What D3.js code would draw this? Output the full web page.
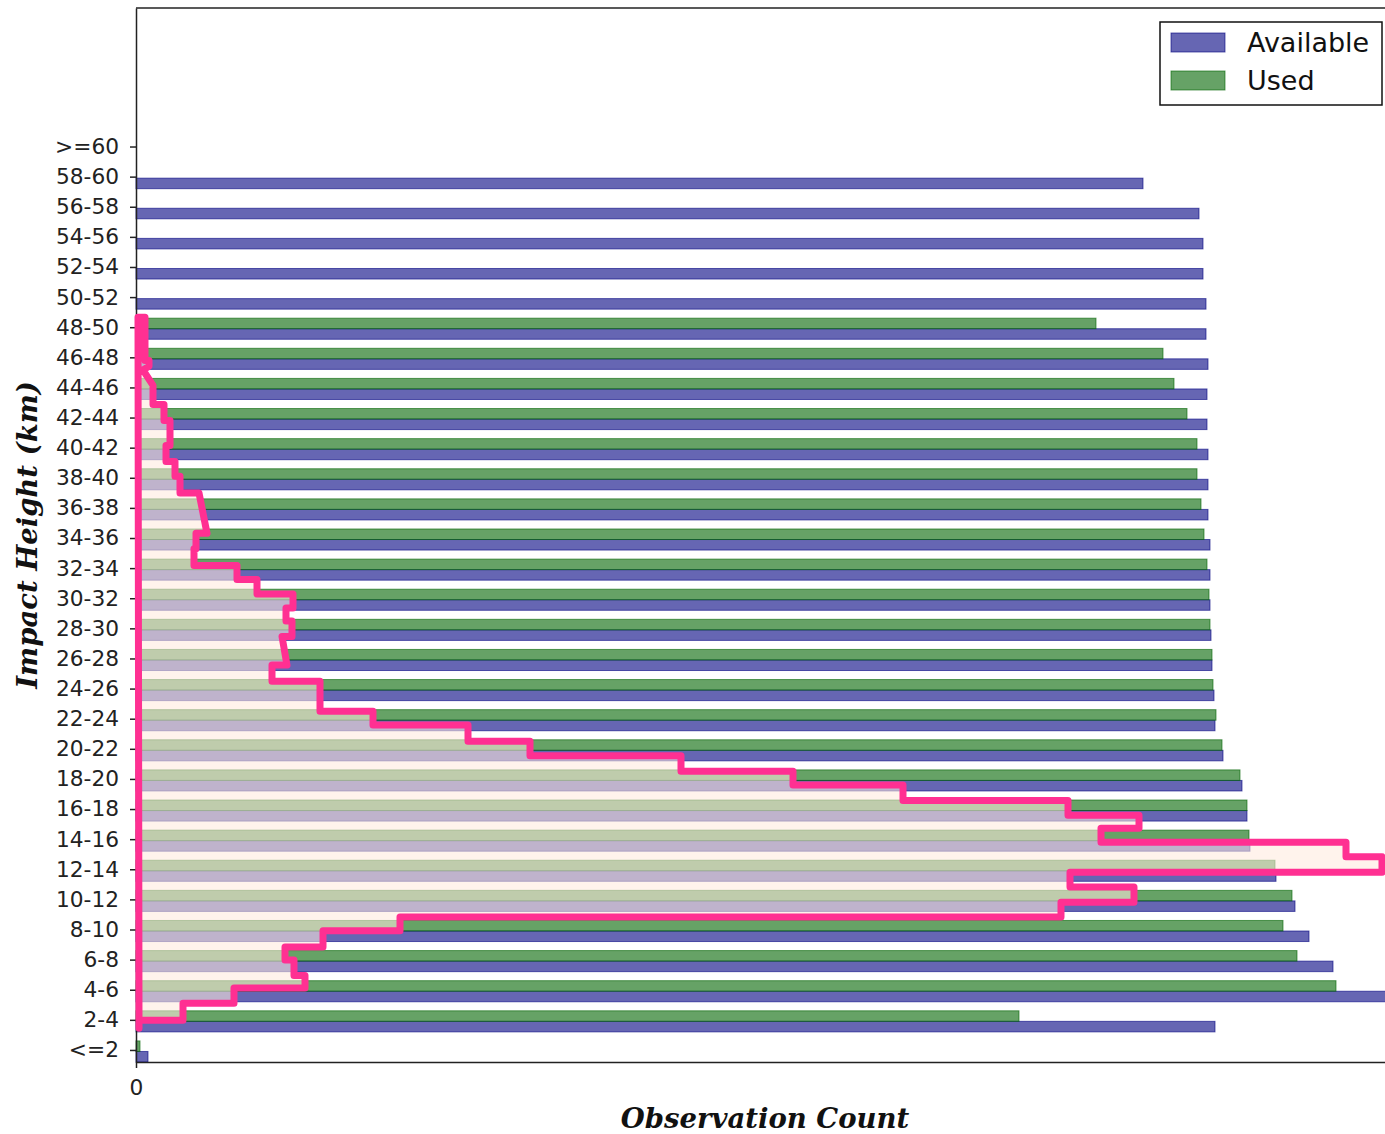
<!DOCTYPE html>
<html>
<head>
<meta charset="utf-8">
<script src="https://cdn.jsdelivr.net/npm/d3@7/dist/d3.min.js"></script>
<style>
  html, body { margin: 0; padding: 0; background: #fff; overflow: hidden; }
  svg { display: block; }
  .tick text { font-family: "DejaVu Sans", sans-serif; fill: #222; }
  .axlabel { font-family: "DejaVu Serif", serif; font-weight: bold; font-style: italic; fill: #111; }
</style>
</head>
<body>
<svg id="chart"></svg>
<script>
// height bins, bottom to top
var labels = ["<=2", "2-4", "4-6", "6-8", "8-10", "10-12", "12-14", "14-16", "16-18", "18-20",
              "20-22", "22-24", "24-26", "26-28", "28-30", "30-32", "32-34", "34-36", "36-38", "38-40",
              "40-42", "42-44", "44-46", "46-48", "48-50", "50-52", "52-54", "54-56", "56-58", "58-60", ">=60"];

var seriesNames = ["Available", "Used"];

var available = [12, 1079, 1258, 1197, 1173, 1159, 1140, 1114, 1111, 1106,
                 1087, 1079, 1078, 1076, 1075, 1074, 1074, 1074, 1072, 1072,
                 1072, 1071, 1071, 1072, 1070, 1070, 1067, 1067, 1063, 1007, 0];

var used = [4, 883, 1200, 1161, 1147, 1156, 1139, 1113, 1111, 1104,
            1086, 1080, 1077, 1076, 1074, 1073, 1071, 1068, 1065, 1061,
            1061, 1051, 1038, 1027, 960, 0, 0, 0, 0, 0, 0];

// overlaid step outline (height in km, count)
var outlineKm = [50, 50, 47.05, 47.05, 46.65, 46.4, 45.35, 44.05, 44.05, 42.95,
                 42.95, 41.25, 41.25, 40.15, 40.15, 39.15, 39.15, 38, 38, 35.25,
                 35.25, 34.2, 34.2, 33.05, 33.05, 32.1, 32.1, 31.1, 31.1, 30.15,
                 30.15, 29.25, 29.25, 28.2, 28.2, 26.25, 26.25, 25.15, 25.15, 23.1,
                 23.1, 22.15, 22.15, 21.05, 21.05, 20.05, 20.05, 19, 19, 18.05,
                 18.05, 17, 17, 16, 16, 15.1, 15.1, 14.15, 14.15, 13.15,
                 13.15, 12.1, 12.1, 11.1, 11.1, 10.05, 10.05, 9.05, 9.05, 8.1,
                 8.1, 7, 7, 6.1, 6.1, 5.05, 5.05, 4.2, 4.2, 3.15,
                 3.15, 2, 2, 1.45];
var outlineCount = [2, 9, 9, 13, 13, 7, 17, 17, 28, 28,
                    34, 34, 30, 30, 39, 39, 44, 44, 63, 71,
                    60, 60, 58, 58, 101, 101, 121, 121, 157, 157,
                    150, 150, 156, 156, 146, 151, 136, 136, 184, 184,
                    237, 237, 332, 332, 394, 394, 545, 545, 657, 657,
                    767, 767, 932, 932, 1003, 1003, 965, 965, 1210, 1210,
                    1246, 1246, 934, 934, 998, 998, 925, 925, 264, 264,
                    187, 187, 149, 149, 158, 158, 169, 169, 98, 98,
                    47, 47, 3, 3];

var margin = {top: 8, left: 136},
    width = 1258,
    height = 1054;

var svg = d3.select("#chart")
    .attr("width", 1385)
    .attr("height", 1134);

var g = svg.append("g")
    .attr("transform", "translate(" + margin.left + "," + margin.top + ")");

var x = d3.scaleLinear().domain([0, d3.max(available)]).range([0, width]);
var y = d3.scaleLinear().domain([-0.4, 34.6]).range([height, 0]);
// the outline has its own km axis
var yKm = d3.scaleLinear().domain([2, 50]).range([y(0.99), y(24.33)]);

var barH = 0.35;

// bars: Used above the tick, Available below
g.selectAll("rect.avail")
    .data(available)
    .enter()
    .append("rect")
    .attr("class", "avail")
    .attr("x", x(0))
    .attr("y", function(d, i) { return y(i - 0.05); })
    .attr("width", function(d) { return x(d) - x(0); })
    .attr("height", y(0) - y(barH))
    .style("fill", "navy")
    .style("fill-opacity", 0.6)
    .style("stroke", "navy")
    .style("stroke-opacity", 0.6)
    .style("stroke-width", 1)
    .style("display", function(d) { return d > 0 ? null : "none"; });

g.selectAll("rect.used")
    .data(used)
    .enter()
    .append("rect")
    .attr("class", "used")
    .attr("x", x(0))
    .attr("y", function(d, i) { return y(i - 0.05 + barH); })
    .attr("width", function(d) { return x(d) - x(0); })
    .attr("height", y(0) - y(barH))
    .style("fill", "darkgreen")
    .style("fill-opacity", 0.6)
    .style("stroke", "darkgreen")
    .style("stroke-opacity", 0.6)
    .style("stroke-width", 1)
    .style("display", function(d) { return d > 0 ? null : "none"; });

// axes
var yAxis = g.append("g")
    .call(d3.axisLeft(y)
        .tickValues(d3.range(labels.length))
        .tickFormat(function(i) { return labels[i]; })
        .tickSize(6)
        .tickSizeOuter(0)
        .tickPadding(11));

var xAxis = g.append("g")
    .attr("transform", "translate(0," + height + ")")
    .call(d3.axisBottom(x)
        .tickValues([0])
        .tickSize(6)
        .tickSizeOuter(0)
        .tickPadding(12));

svg.selectAll(".tick text").style("font-size", "21.7px");
svg.selectAll(".domain, .tick line").style("stroke", "#222").style("stroke-width", 1.5);

// top spine
g.append("line")
    .attr("x1", 0).attr("x2", width)
    .attr("y1", 0).attr("y2", 0)
    .style("stroke", "#222")
    .style("stroke-width", 1.5);

// outline overlay
var pts = outlineKm.map(function(k, i) { return [outlineCount[i], k]; });
var line = d3.line()
    .x(function(d) { return x(d[0]); })
    .y(function(d) { return yKm(d[1]); });

g.append("path")
    .attr("d", line(pts) + "Z")
    .style("fill", "rgb(255,234,222)")
    .style("fill-opacity", 0.58)
    .style("stroke", "none");

g.append("path")
    .attr("d", line(pts) + "Z")
    .style("fill", "none")
    .style("stroke", "#ff3092")
    .style("stroke-width", 7)
    .style("stroke-linejoin", "round");

// axis labels
svg.append("text")
    .attr("class", "axlabel")
    .attr("x", margin.left + 629)
    .attr("y", 1128)
    .style("text-anchor", "middle")
    .style("font-size", "27.5px")
    .text("Observation Count");

svg.append("text")
    .attr("class", "axlabel")
    .attr("transform", "translate(37," + (margin.top + height / 2) + ") rotate(-90)")
    .style("text-anchor", "middle")
    .style("font-size", "27.5px")
    .text("Impact Height (km)");

// legend
var legend = svg.append("g");
legend.append("rect")
    .attr("x", 1160).attr("y", 22)
    .attr("width", 222).attr("height", 83)
    .style("fill", "#fff")
    .style("stroke", "#111")
    .style("stroke-width", 1.5);

var legendColors = ["navy", "darkgreen"];
seriesNames.forEach(function(name, i) {
    legend.append("rect")
        .attr("x", 1171).attr("y", 33 + i * 38)
        .attr("width", 54).attr("height", 19)
        .style("fill", legendColors[i])
        .style("fill-opacity", 0.6)
        .style("stroke", legendColors[i])
        .style("stroke-opacity", 0.6);
    legend.append("text")
        .attr("x", 1247).attr("y", 52 + i * 38)
        .style("font-family", "DejaVu Sans, sans-serif")
        .style("font-size", "27px")
        .style("fill", "#111")
        .text(name);
});
</script>
</body>
</html>
